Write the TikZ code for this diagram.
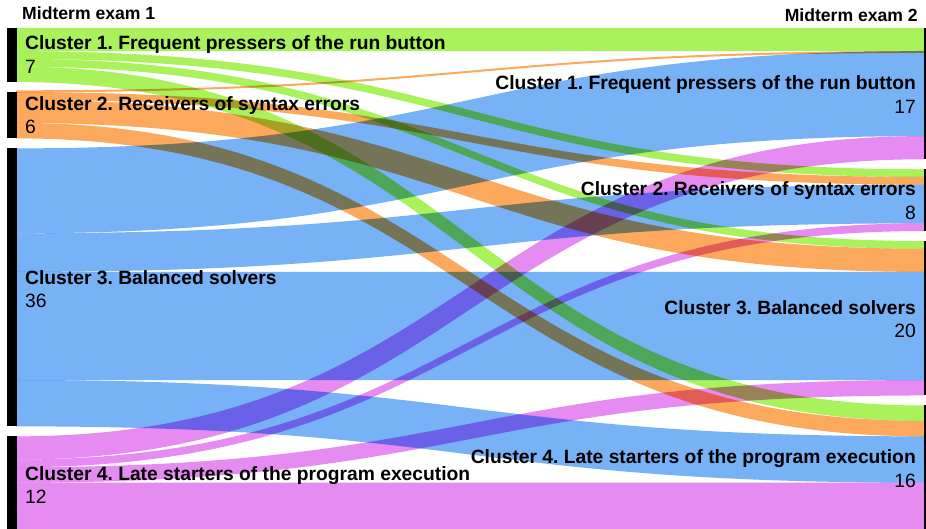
\documentclass[tikz,border=0pt]{standalone}
\usepackage{fontspec}
\setmainfont{Liberation Sans}
\frenchspacing
\definecolor{cgreen}{RGB}{169,242,92}
\definecolor{corange}{RGB}{252,168,93}
\definecolor{cblue}{RGB}{119,177,246}
\definecolor{cpink}{RGB}{230,139,241}
% link band: colour, left top, left bottom, right top, right bottom
\newcommand\sankeylink[5]{%
  \fill[#1] (16,#2) .. controls (470,#2) and (470,#4) .. (924,#4)
    -- (924,#5) .. controls (470,#5) and (470,#3) .. (16,#3) -- cycle;}
\begin{document}
\begin{tikzpicture}[x=1pt,y=-1pt,
  lbl/.style={font=\fontsize{19.25}{19.25}\selectfont\bfseries, inner sep=0pt},
  num/.style={font=\fontsize{19.25}{19.25}\selectfont, inner sep=0pt},
  ttl/.style={font=\fontsize{17.6}{17.6}\selectfont\bfseries, inner sep=0pt},
  bar/.style={fill=black}]
\useasboundingbox (0,0) rectangle (926,529);
\fill[white] (0,0) rectangle (926,529);

\begin{scope}[blend group=multiply]
% Cluster 1 (left)
\sankeylink{cgreen}{28}{51.16}{28}{51.16}
\sankeylink{cgreen}{51.16}{58.88}{169.27}{176.99}
\sankeylink{cgreen}{58.88}{66.60}{241.04}{248.76}
\sankeylink{cgreen}{66.60}{82.05}{405.47}{420.91}
% Cluster 2 (left)
\draw[corange, line width=2pt] (16,91.3) .. controls (470,91.3) and (470,52) .. (924,52);
\sankeylink{corange}{92.05}{99.77}{176.99}{184.71}
\sankeylink{corange}{99.77}{122.93}{248.76}{271.93}
\sankeylink{corange}{122.93}{138.38}{420.91}{436.36}
% Cluster 3 (left)
\sankeylink{cblue}{148.38}{233.32}{51.16}{136.10}
\sankeylink{cblue}{233.32}{271.92}{184.71}{223.32}
\sankeylink{cblue}{271.92}{380.02}{271.93}{380.03}
\sankeylink{cblue}{380.02}{426.35}{436.36}{482.68}
% Cluster 4 (left)
\sankeylink{cpink}{436.35}{459.51}{136.10}{159.27}
\sankeylink{cpink}{459.51}{467.24}{223.32}{231.04}
\sankeylink{cpink}{467.24}{482.68}{380.03}{395.47}
\sankeylink{cpink}{482.68}{529}{482.68}{529}
\end{scope}

% node bars
\fill[bar] (7,28) rectangle (16.5,82.05);
\fill[bar] (7,92.05) rectangle (16.5,138.38);
\fill[bar] (7,148.38) rectangle (16.5,426.35);
\fill[bar] (7,436.35) rectangle (16.5,529);
\fill[bar] (924,28) rectangle (926,159.27);
\fill[bar] (924,169.27) rectangle (926,231.04);
\fill[bar] (924,241.04) rectangle (926,395.47);
\fill[bar] (924,405.47) rectangle (926,529);

% titles
\node[ttl, anchor=base west] (t1) at (22,20) {Midterm exam 1};
\node[ttl, anchor=base east] (t2) at (918,22) {Midterm exam 2};

% left labels
\node[lbl, anchor=base west] (l1) at (25,50) {Cluster 1. Frequent pressers of the run button};
\node[num, anchor=base west] (l1n) at (25,74) {7};
\node[lbl, anchor=base west] (l2) at (25,111) {Cluster 2. Receivers of syntax errors};
\node[num, anchor=base west] (l2n) at (25,133.5) {6};
\node[lbl, anchor=base west] (l3) at (25,284) {Cluster 3. Balanced solvers};
\node[num, anchor=base west] (l3n) at (25,307) {36};
\node[lbl, anchor=base west] (l4) at (25,480) {Cluster 4. Late starters of the program execution};
\node[num, anchor=base west] (l4n) at (25,503) {12};

% right labels
\node[lbl, anchor=base east] (r1) at (916,89.5) {Cluster 1. Frequent pressers of the run button};
\node[num, anchor=base east] (r1n) at (916,113.3) {17};
\node[lbl, anchor=base east] (r2) at (916,196) {Cluster 2. Receivers of syntax errors};
\node[num, anchor=base east] (r2n) at (916,219.3) {8};
\node[lbl, anchor=base east] (r3) at (916,314) {Cluster 3. Balanced solvers};
\node[num, anchor=base east] (r3n) at (916,337.3) {20};
\node[lbl, anchor=base east] (r4) at (916,463.3) {Cluster 4. Late starters of the program execution};
\node[num, anchor=base east] (r4n) at (916,487.3) {16};
\end{tikzpicture}
\end{document}
